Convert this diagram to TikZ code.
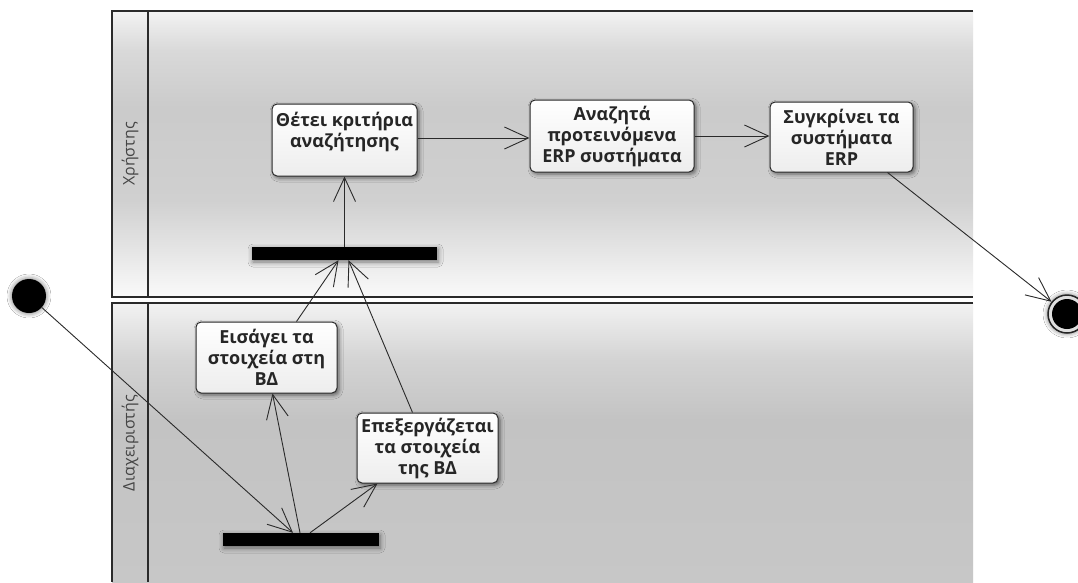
\documentclass[tikz,border=0pt]{standalone}
\usepackage{fontspec}
\newfontfamily\uifont{Open Sans}
\usetikzlibrary{arrows.meta,shadows.blur,calc}
\definecolor{edge}{HTML}{2A2A2A}
\definecolor{lanetext}{HTML}{454545}

% lane backgrounds: stops listed from bottom to top
\pgfdeclareverticalshading{lanetop}{100bp}{%
  color(0bp)=(gray!4); color(25bp)=(gray!4); color(33bp)=(gray!20);
  color(42bp)=(gray!37); color(58bp)=(gray!41); color(68bp)=(gray!30);
  color(75bp)=(gray!10); color(100bp)=(gray!10)}
\pgfdeclareverticalshading{lanebottom}{100bp}{%
  color(0bp)=(gray!44); color(25bp)=(gray!44); color(54bp)=(gray!47);
  color(65bp)=(gray!34); color(75bp)=(gray!10); color(100bp)=(gray!10)}

\begin{document}
\begin{tikzpicture}[x=1pt,y=-1pt,
  lanerule/.style={draw=edge, line width=1.1pt},
  lanelabel/.style={rotate=90, font=\uifont\fontsize{16}{19}\selectfont, text=lanetext},
  act/.style={draw=edge, line width=1pt, rounded corners=5pt,
    top color=white, bottom color=gray!14, align=center, inner sep=2pt,
    font=\uifont\bfseries\fontsize{18}{21}\selectfont, text=black!85,
    blur shadow={shadow xshift=2pt, shadow yshift=-2pt, shadow blur radius=4pt, shadow opacity=55}},
  syncbar/.style={fill=black, draw=none, inner sep=0pt, minimum height=13pt,
    blur shadow={shadow xshift=1pt, shadow yshift=-2pt, shadow blur radius=5pt, shadow opacity=50}},
  flow/.style={draw=edge, line width=0.9pt, -{Straight Barb[length=24pt,width=22pt]}}
]
\useasboundingbox (0,0) rectangle (1078,582);
\fill[white] (0,0) rectangle (1078,582);

% swimlane backgrounds
\shade[shading=lanetop] (112,11) rectangle (973,297);
\shade[shading=lanebottom] (112,303) rectangle (973,582);

% swimlane borders
\draw[lanerule] (973,11) -- (112,11) -- (112,297) -- (973,297);
\draw[lanerule] (148,11) -- (148,297);
\draw[lanerule] (973,303) -- (112,303) -- (112,582);
\draw[lanerule] (148,303) -- (148,582);

\node[lanelabel] (laneuser) at (130,154) {Χρήστης};
\node[lanelabel] (laneadmin) at (130,443) {Διαχειριστής};

% activities
\node[act, minimum width=145pt, minimum height=72pt] (thetei) at (344.5,140)
  {Θέτει κριτήρια\\αναζήτησης\\\mbox{}};
\node[act, minimum width=164pt, minimum height=72pt] (anaz) at (612,136)
  {Αναζητά\\προτεινόμενα\\ERP συστήματα};
\node[act, minimum width=143pt, minimum height=70pt] (synk) at (841.5,137)
  {Συγκρίνει τα\\συστήματα\\ERP};
\node[act, minimum width=141pt, minimum height=71pt] (eis) at (266.5,357.5)
  {Εισάγει τα\\στοιχεία στη\\ΒΔ};
\node[act, minimum width=141pt, minimum height=70pt] (epex) at (427.5,448)
  {Επεξεργάζεται\\τα στοιχεία\\της ΒΔ};

% fork / join bars
\node[syncbar, minimum width=185pt] (join) at (344.5,253.5) {};
\node[syncbar, minimum width=156pt] (fork) at (301,539.5) {};

% start and end
\node[circle, fill=black, inner sep=0pt, minimum size=34pt,
  blur shadow={shadow xshift=0pt, shadow yshift=0pt, shadow blur radius=5pt, shadow opacity=60}]
  (start) at (29,296) {};
\node[circle, draw=black!85, line width=1.5pt, fill=white!75!gray, inner sep=0pt, minimum size=38pt,
  blur shadow={shadow xshift=0pt, shadow yshift=0pt, shadow blur radius=5pt, shadow opacity=60},
  path picture={\fill[black] (path picture bounding box.center) circle (15pt);}]
  (stop) at (1067,314) {};

% transitions
\draw[flow] (start) -- ([xshift=-8pt]fork.north);
\draw[flow] ([xshift=-1pt]fork.north) -- ([xshift=6pt]eis.south);
\draw[flow] ([xshift=9pt]fork.north) -- ([xshift=-50pt]epex.south);
\draw[flow] ([xshift=30pt]eis.north) -- ([xshift=-6pt]join.south);
\draw[flow] ([xshift=-15pt]epex.north) -- ([xshift=4pt]join.south);
\draw[flow] (join.north) -- (thetei.south);
\draw[flow] ([yshift=2pt]thetei.east) -- ([yshift=-2pt]anaz.west);
\draw[flow] (anaz.east) -- (anaz.east -| synk.west);
\draw[flow] ([xshift=46pt]synk.south) -- (stop);
\end{tikzpicture}
\end{document}
